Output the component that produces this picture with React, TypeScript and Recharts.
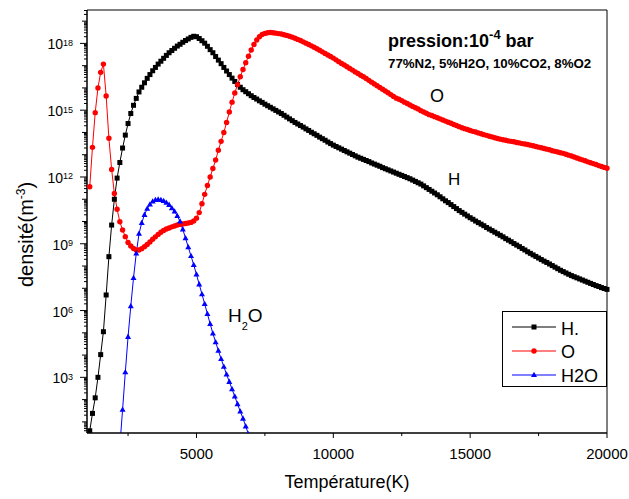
import { LineChart, Line, XAxis, YAxis, ReferenceArea } from 'recharts';

// Temperature grid of the simulation (K)
const T_START = 1000;
const T_END = 20000;
const T_STEP = 100;

// log10 of density (m^-3), one value per 100 K
const H_LOG = [
  -0.2, 0.6, 1.38, 2.08, 3.0, 4.02, 5.05, 6.7, 8.42, 9.84,
  11.0, 11.95, 12.65, 13.3, 13.88, 14.4, 14.85, 15.22, 15.53, 15.82,
  16.03, 16.23, 16.43, 16.6, 16.77, 16.92, 17.07, 17.2, 17.33, 17.46,
  17.58, 17.68, 17.78, 17.88, 17.96, 18.05, 18.13, 18.2, 18.27, 18.32,
  18.3, 18.22, 18.12, 18.01, 17.87, 17.72, 17.58, 17.41, 17.25, 17.09,
  16.92, 16.76, 16.6, 16.44, 16.29, 16.15, 16.03, 15.92, 15.83, 15.74,
  15.65, 15.57, 15.5, 15.42, 15.35, 15.27, 15.2, 15.13, 15.06, 14.99,
  14.92, 14.85, 14.77, 14.69, 14.61, 14.53, 14.45, 14.38, 14.31, 14.24,
  14.16, 14.09, 14.01, 13.94, 13.87, 13.79, 13.72, 13.65, 13.57, 13.5,
  13.43, 13.37, 13.31, 13.25, 13.19, 13.13, 13.07, 13.01, 12.95, 12.89,
  12.84, 12.79, 12.74, 12.69, 12.63, 12.58, 12.53, 12.48, 12.42, 12.37,
  12.32, 12.27, 12.22, 12.17, 12.12, 12.07, 12.02, 11.97, 11.92, 11.86,
  11.8, 11.74, 11.68, 11.6, 11.52, 11.44, 11.36, 11.28, 11.2, 11.11,
  11.02, 10.93, 10.85, 10.76, 10.67, 10.58, 10.49, 10.41, 10.33, 10.25,
  10.17, 10.1, 10.02, 9.95, 9.88, 9.81, 9.73, 9.66, 9.59, 9.52,
  9.45, 9.38, 9.31, 9.23, 9.16, 9.09, 9.01, 8.94, 8.87, 8.79,
  8.72, 8.64, 8.57, 8.5, 8.43, 8.36, 8.29, 8.22, 8.16, 8.09,
  8.02, 7.95, 7.88, 7.81, 7.75, 7.69, 7.63, 7.57, 7.52, 7.47,
  7.42, 7.37, 7.32, 7.27, 7.22, 7.17, 7.12, 7.08, 7.03, 6.99,
  6.95,
];

const O_LOG = [
  null, 11.56, 13.33, 14.89, 16.0, 16.7, 17.07, 15.64, 13.74, 12.34,
  11.26, 10.55, 9.99, 9.62, 9.32, 9.06, 8.9, 8.79, 8.72, 8.72,
  8.78, 8.87, 8.97, 9.08, 9.2, 9.31, 9.42, 9.52, 9.6, 9.66,
  9.71, 9.76, 9.8, 9.84, 9.87, 9.89, 9.91, 9.93, 9.96, 10.02,
  10.15, 10.4, 10.8, 11.22, 11.62, 12.0, 12.38, 12.76, 13.2, 13.6,
  14.0, 14.45, 14.92, 15.36, 15.77, 16.15, 16.5, 16.83, 17.13, 17.42,
  17.7, 17.95, 18.15, 18.3, 18.4, 18.45, 18.48, 18.49, 18.48, 18.46,
  18.44, 18.42, 18.39, 18.36, 18.32, 18.28, 18.23, 18.18, 18.13, 18.07,
  18.01, 17.95, 17.89, 17.83, 17.76, 17.69, 17.62, 17.55, 17.48, 17.41,
  17.34, 17.26, 17.18, 17.1, 17.03, 16.95, 16.87, 16.8, 16.72, 16.65,
  16.57, 16.5, 16.42, 16.34, 16.26, 16.18, 16.1, 16.02, 15.94, 15.86,
  15.78, 15.7, 15.62, 15.54, 15.49, 15.43, 15.36, 15.3, 15.23, 15.17,
  15.11, 15.05, 14.98, 14.92, 14.86, 14.8, 14.76, 14.71, 14.66, 14.61,
  14.56, 14.51, 14.46, 14.41, 14.36, 14.31, 14.26, 14.21, 14.17, 14.13,
  14.09, 14.05, 14.02, 13.98, 13.94, 13.9, 13.87, 13.83, 13.8, 13.76,
  13.73, 13.7, 13.67, 13.65, 13.62, 13.6, 13.58, 13.55, 13.53, 13.5,
  13.48, 13.46, 13.43, 13.4, 13.37, 13.34, 13.31, 13.28, 13.25, 13.22,
  13.18, 13.15, 13.12, 13.09, 13.06, 13.02, 12.98, 12.94, 12.9, 12.85,
  12.81, 12.77, 12.73, 12.68, 12.64, 12.6, 12.56, 12.51, 12.47, 12.43,
  12.39,
];

// H2O only exists between 2200 K and 6900 K on this plot
const H2O_FROM = 2200;
const H2O_LOG = [
  -0.1, 1.55, 3.23, 4.82, 6.2, 7.47, 8.57, 9.45,
  9.94, 10.3, 10.58, 10.77, 10.9, 10.97, 10.99, 10.97, 10.92, 10.85,
  10.75, 10.6, 10.45, 10.25, 10.0, 9.65, 9.25, 8.85, 8.45, 8.05,
  7.62, 7.18, 6.74, 6.3, 5.85, 5.4, 4.97, 4.58, 4.2, 3.83,
  3.48, 3.13, 2.8, 2.47, 2.14, 1.8, 1.47, 1.15, 0.8, 0.45,
];

const X_TICKS = [2500, 5000, 7500, 10000, 12500, 15000, 17500, 20000];
const X_LABELED = [5000, 10000, 15000, 20000];
const Y_LABEL_EXP = [3, 6, 9, 12, 15, 18];
const Y_MIN_EXP = 0.5;
const Y_MAX_EXP = 19.5;

const toDensity = (e: number | null | undefined) => (e == null ? null : Math.pow(10, e));

const data = H_LOG.map((h, i) => {
  const T = T_START + i * T_STEP;
  const j = (T - H2O_FROM) / T_STEP;
  return {
    T,
    h: toDensity(h),
    o: toDensity(O_LOG[i]),
    w: j >= 0 && j < H2O_LOG.length ? toDensity(H2O_LOG[j]) : null,
  };
});

// log axis ticks: 1..9 x 10^k inside the domain
const yTicks: number[] = [];
for (let k = 0; k <= 19; k++) {
  for (let m = 1; m <= 9; m++) {
    const v = m * Math.pow(10, k);
    if (Math.log10(v) >= Y_MIN_EXP && Math.log10(v) <= Y_MAX_EXP) yTicks.push(v);
  }
}

const FONT = 'Liberation Sans, Arial, sans-serif';

function YTick({ x, y, payload }: any) {
  const e = Math.log10(payload.value);
  const er = Math.round(e);
  const decade = Math.abs(e - er) < 1e-6;
  const major = decade && Y_LABEL_EXP.includes(er);
  const len = major ? 7 : decade ? 5 : 3;
  return (
    <g>
      <line x1={x - len} x2={x} y1={y} y2={y} stroke="#000" strokeWidth={1} />
      {major && (
        <text x={x - 14} y={y + 6} textAnchor="end" fontSize={14} fontFamily={FONT} fill="#000">
          10<tspan dy={-3.5} fontSize={9}>{er}</tspan>
        </text>
      )}
    </g>
  );
}

function XTick({ x, y, payload }: any) {
  const major = X_LABELED.includes(payload.value);
  return (
    <g>
      <line x1={x} x2={x} y1={y} y2={y + (major ? 5 : 3)} stroke="#000" strokeWidth={1} />
      {major && (
        <text x={x} y={y + 26} textAnchor="middle" fontSize={15} fontFamily={FONT} fill="#000">
          {payload.value}
        </text>
      )}
    </g>
  );
}

function SquareDot(p: any) {
  if (p.cx == null || p.cy == null || Number.isNaN(p.cy)) return <g key={p.index} />;
  return <rect key={p.index} x={p.cx - 2.5} y={p.cy - 2.5} width={5} height={5} fill="#000" />;
}

function CircleDot(p: any) {
  if (p.cx == null || p.cy == null || Number.isNaN(p.cy)) return <g key={p.index} />;
  return <circle key={p.index} cx={p.cx} cy={p.cy} r={2.7} fill="#ff0000" />;
}

function TriangleDot(p: any) {
  if (p.cx == null || p.cy == null || Number.isNaN(p.cy)) return <g key={p.index} />;
  const { cx, cy } = p;
  return (
    <polygon
      key={p.index}
      points={`${cx},${cy - 3.2} ${cx + 3},${cy + 2.1} ${cx - 3},${cy + 2.1}`}
      fill="#0000ff"
    />
  );
}

export default function App() {
  const yLo = Math.pow(10, Y_MIN_EXP);
  const yHi = Math.pow(10, Y_MAX_EXP);
  return (
    <div style={{ position: 'absolute', left: 0, top: 0, width: 629, height: 499, background: '#fff' }}>
      <LineChart width={629} height={499} data={data} margin={{ top: 10, right: 22, left: 27, bottom: 36 }}>
        <XAxis
          dataKey="T"
          type="number"
          domain={[T_START, T_END]}
          ticks={X_TICKS}
          interval={0}
          tickSize={0}
          tickMargin={0}
          tick={<XTick />}
          axisLine={{ stroke: '#000' }}
          height={30}
        />
        <YAxis
          scale="log"
          type="number"
          domain={[yLo, yHi]}
          allowDataOverflow
          ticks={yTicks}
          interval={0}
          tickSize={0}
          tickMargin={0}
          tick={<YTick />}
          axisLine={{ stroke: '#000' }}
          width={60}
        />
        <ReferenceArea x1={T_START} x2={T_END} y1={yLo} y2={yHi} fill="none" stroke="#000" strokeWidth={1} />
        <Line dataKey="h" stroke="#000" strokeWidth={1} dot={SquareDot} isAnimationActive={false} />
        <Line dataKey="o" stroke="#ff0000" strokeWidth={1} dot={CircleDot} isAnimationActive={false} />
        <Line dataKey="w" stroke="#0000ff" strokeWidth={1} dot={TriangleDot} isAnimationActive={false} />
      </LineChart>

      <svg
        width={629}
        height={499}
        style={{ position: 'absolute', left: 0, top: 0, pointerEvents: 'none' }}
        fontFamily={FONT}
      >
        <text x={347} y={488} textAnchor="middle" fontSize={18}>Température(K)</text>
        <text transform="translate(33,287) rotate(-90)" fontSize={20}>
          densité(m<tspan dy={-8} fontSize={12}>-3</tspan><tspan dy={8}>)</tspan>
        </text>

        <text x={388} y={47} fontSize={18} fontWeight="bold">
          pression:10<tspan dy={-8} fontSize={13}>-4</tspan><tspan dy={8}> bar</tspan>
        </text>
        <text x={388} y={68} fontSize={13.3} fontWeight="bold">77%N2, 5%H2O, 10%CO2, 8%O2</text>

        <text x={430} y={102} fontSize={18}>O</text>
        <text x={448} y={185} fontSize={17}>H</text>
        <text x={228} y={322} fontSize={19}>
          H<tspan dy={8} fontSize={11}>2</tspan><tspan dy={-8}>O</tspan>
        </text>

        {/* legend */}
        <rect x={502.5} y={311.5} width={104} height={75} fill="#fff" stroke="#000" strokeWidth={1} />
        <line x1={512} x2={556} y1={327} y2={327} stroke="#000" strokeWidth={1} />
        <rect x={531.5} y={324.5} width={5} height={5} fill="#000" />
        <text x={561} y={335} fontSize={18}>H.</text>
        <line x1={512} x2={556} y1={351} y2={351} stroke="#ff0000" strokeWidth={1} />
        <circle cx={534} cy={351} r={2.7} fill="#ff0000" />
        <text x={561} y={358} fontSize={18}>O</text>
        <line x1={512} x2={556} y1={375} y2={375} stroke="#0000ff" strokeWidth={1} />
        <polygon points="534,371.8 537,377.1 531,377.1" fill="#0000ff" />
        <text x={561} y={382} fontSize={18}>H2O</text>
      </svg>
    </div>
  );
}
